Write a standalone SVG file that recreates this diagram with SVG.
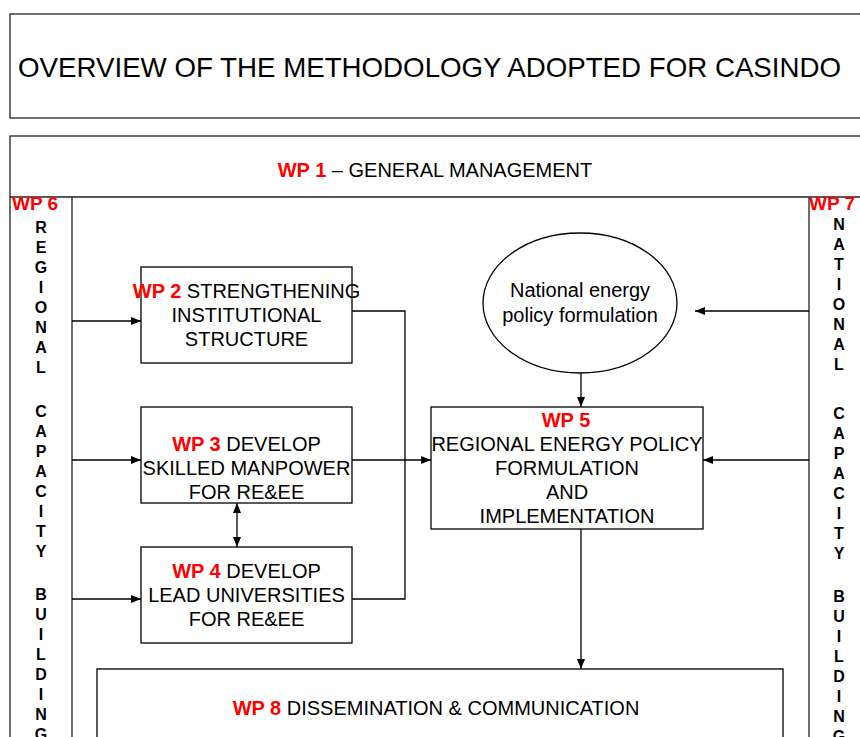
<svg xmlns="http://www.w3.org/2000/svg" width="860" height="737" viewBox="0 0 860 737">
<style>
  text { font-family: "Liberation Sans", Arial, sans-serif; fill: #000; }
  .t20 { font-size: 20px; }
  .wp { fill: #ff0000; font-weight: bold; }
  .col { font-size: 16px; font-weight: bold; text-anchor: middle; }
  .box { fill: #fff; stroke: #000; stroke-width: 1.3; }
  .frame { fill: none; stroke: #222; stroke-width: 1.3; }
  .conn { fill: none; stroke: #000; stroke-width: 1.3; }
  .mid { text-anchor: middle; }
</style>
<defs>
  <marker id="ah" markerUnits="userSpaceOnUse" markerWidth="10" markerHeight="8" refX="10" refY="4" orient="auto-start-reverse">
    <path d="M0,0 L10,4 L0,8 z" fill="#000"/>
  </marker>
</defs>
<rect width="860" height="737" fill="#fff"/>

<g id="title">
  <rect class="frame" x="10" y="14" width="860" height="104" stroke="#444"/>
  <text x="18" y="77" style="font-size:27.7px">OVERVIEW OF THE METHODOLOGY ADOPTED FOR CASINDO</text>
</g>

<g id="wp1">
  <rect class="frame" x="10" y="136" width="870" height="620"/>
  <line class="frame" x1="10" y1="197" x2="860" y2="197"/>
  <text class="t20 mid" x="435" y="177"><tspan class="wp">WP 1</tspan> – GENERAL MANAGEMENT</text>
</g>

<g id="wp6">
  <line class="frame" x1="72" y1="197" x2="72" y2="737"/>
  <text class="wp" x="12" y="210" style="font-size:19px">WP 6</text>
  <g class="col">
    <text x="41" y="233">R</text><text x="41" y="253">E</text><text x="41" y="273">G</text><text x="41" y="293">I</text>
    <text x="41" y="313">O</text><text x="41" y="333">N</text><text x="41" y="353">A</text><text x="41" y="373">L</text>
    <text x="41" y="417">C</text><text x="41" y="437">A</text><text x="41" y="457">P</text><text x="41" y="477">A</text>
    <text x="41" y="497">C</text><text x="41" y="517">I</text><text x="41" y="537">T</text><text x="41" y="557">Y</text>
    <text x="41" y="600">B</text><text x="41" y="620">U</text><text x="41" y="640">I</text><text x="41" y="660">L</text>
    <text x="41" y="680">D</text><text x="41" y="700">I</text><text x="41" y="720">N</text><text x="41" y="740">G</text>
  </g>
</g>

<g id="wp7">
  <line class="frame" x1="809" y1="197" x2="809" y2="737"/>
  <text class="wp" x="809" y="210" style="font-size:19px">WP 7</text>
  <g class="col">
    <text x="839" y="230">N</text><text x="839" y="250">A</text><text x="839" y="270">T</text><text x="839" y="290">I</text>
    <text x="839" y="310">O</text><text x="839" y="330">N</text><text x="839" y="350">A</text><text x="839" y="370">L</text>
    <text x="839" y="419">C</text><text x="839" y="439">A</text><text x="839" y="459">P</text><text x="839" y="479">A</text>
    <text x="839" y="499">C</text><text x="839" y="519">I</text><text x="839" y="539">T</text><text x="839" y="559">Y</text>
    <text x="839" y="602">B</text><text x="839" y="622">U</text><text x="839" y="642">I</text><text x="839" y="662">L</text>
    <text x="839" y="682">D</text><text x="839" y="702">I</text><text x="839" y="722">N</text><text x="839" y="742">G</text>
  </g>
</g>

<g id="wp2">
  <rect class="box" x="141" y="267" width="211" height="96"/>
  <text class="t20 mid" x="246.5" y="298"><tspan class="wp">WP 2</tspan> STRENGTHENING</text>
  <text class="t20 mid" x="246.5" y="322">INSTITUTIONAL</text>
  <text class="t20 mid" x="246.5" y="346">STRUCTURE</text>
</g>

<g id="wp3">
  <rect class="box" x="141" y="407" width="211" height="96"/>
  <text class="t20 mid" x="246.5" y="451"><tspan class="wp">WP 3</tspan> DEVELOP</text>
  <text class="t20 mid" x="246.5" y="475">SKILLED MANPOWER</text>
  <text class="t20 mid" x="246.5" y="499">FOR RE&amp;EE</text>
</g>

<g id="wp4">
  <rect class="box" x="141" y="547" width="211" height="96"/>
  <text class="t20 mid" x="246.5" y="578"><tspan class="wp">WP 4</tspan> DEVELOP</text>
  <text class="t20 mid" x="246.5" y="602">LEAD UNIVERSITIES</text>
  <text class="t20 mid" x="246.5" y="626">FOR RE&amp;EE</text>
</g>

<g id="national">
  <ellipse class="box" cx="580" cy="303" rx="97" ry="70"/>
  <text class="t20 mid" x="580" y="297">National energy</text>
  <text class="t20 mid" x="580" y="322">policy formulation</text>
</g>

<g id="wp5">
  <rect class="box" x="431" y="407" width="272" height="122"/>
  <text class="t20 mid wp" x="566" y="427">WP 5</text>
  <text class="t20 mid" x="567" y="451">REGIONAL ENERGY POLICY</text>
  <text class="t20 mid" x="567" y="475">FORMULATION</text>
  <text class="t20 mid" x="567" y="499">AND</text>
  <text class="t20 mid" x="567" y="523">IMPLEMENTATION</text>
</g>

<g id="wp8">
  <rect class="box" x="97" y="669" width="686" height="100"/>
  <text class="t20 mid" x="436" y="715"><tspan class="wp">WP 8</tspan> DISSEMINATION &amp; COMMUNICATION</text>
</g>

<g id="connectors">
  <path class="conn" d="M72,321 H141" marker-end="url(#ah)"/>
  <path class="conn" d="M72,460 H141" marker-end="url(#ah)"/>
  <path class="conn" d="M72,599 H141" marker-end="url(#ah)"/>
  <path class="conn" d="M352,311 H405 V599 H352"/>
  <path class="conn" d="M352,460 H431" marker-end="url(#ah)"/>
  <path class="conn" d="M237,503 V547" marker-start="url(#ah)" marker-end="url(#ah)"/>
  <path class="conn" d="M581,373 V407" marker-end="url(#ah)"/>
  <path class="conn" d="M809,311 H695" marker-end="url(#ah)"/>
  <path class="conn" d="M809,460 H703" marker-end="url(#ah)"/>
  <path class="conn" d="M581,529 V669" marker-end="url(#ah)"/>
</g>
</svg>
